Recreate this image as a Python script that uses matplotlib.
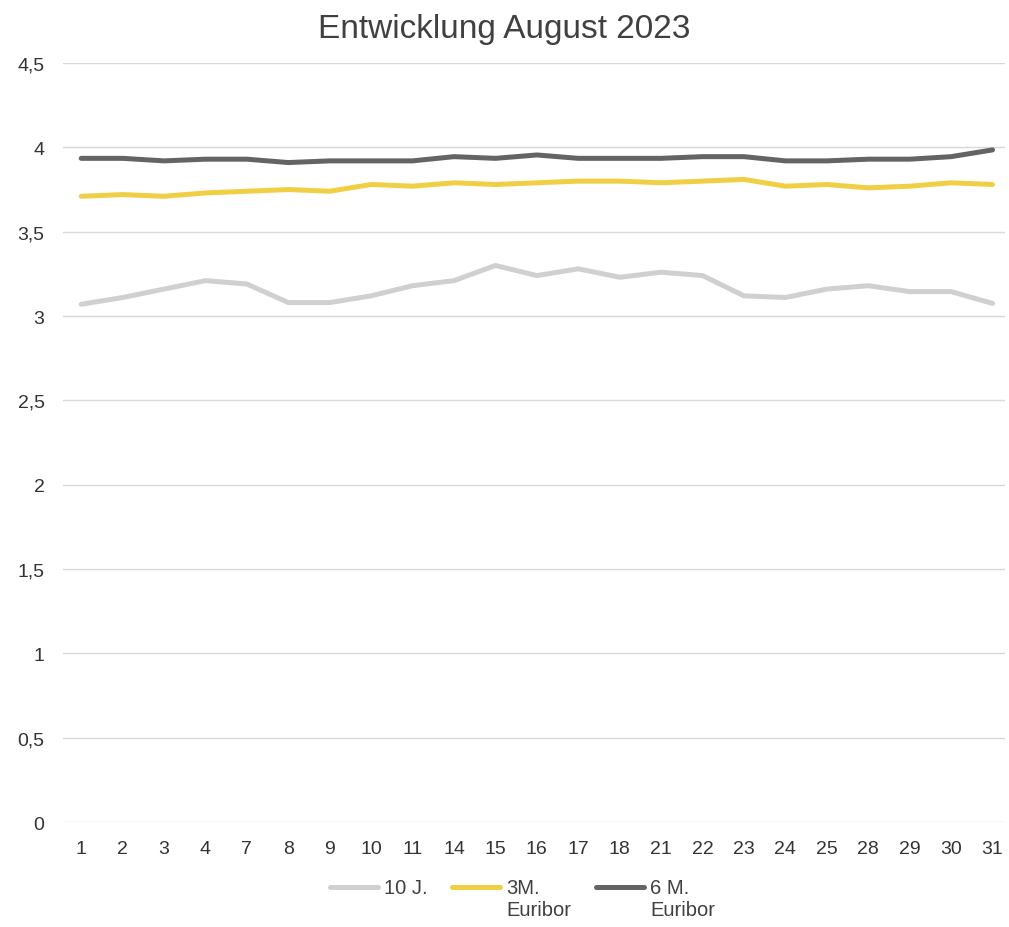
import matplotlib.pyplot as plt
from matplotlib.ticker import FuncFormatter

plt.rcParams['font.family'] = ['Liberation Sans', 'DejaVu Sans']

# Handelstage im August 2023
days = ["1", "2", "3", "4", "7", "8", "9", "10", "11", "14", "15", "16",
        "17", "18", "21", "22", "23", "24", "25", "28", "29", "30", "31"]

# Zinsen in Prozent
zins_10j = [3.07, 3.11, 3.16, 3.21, 3.19, 3.08, 3.08, 3.12, 3.18, 3.21, 3.30, 3.24,
            3.28, 3.23, 3.26, 3.24, 3.12, 3.11, 3.16, 3.18, 3.145, 3.145, 3.075]
euribor_3m = [3.71, 3.72, 3.71, 3.73, 3.74, 3.75, 3.74, 3.78, 3.77, 3.79, 3.78, 3.79,
              3.80, 3.80, 3.79, 3.80, 3.81, 3.77, 3.78, 3.76, 3.77, 3.79, 3.78]
euribor_6m = [3.935, 3.935, 3.92, 3.93, 3.93, 3.91, 3.92, 3.92, 3.92, 3.945, 3.935, 3.955,
              3.935, 3.935, 3.935, 3.945, 3.945, 3.92, 3.92, 3.93, 3.93, 3.945, 3.985]

# zweizeilige Legende wie im Original
labels = ["10 J.\n", "3M.\nEuribor", "6 M.\nEuribor"]
colors = ["#d0d0d0", "#f0cf45", "#646464"]

fig = plt.figure(figsize=(10.09, 9.28), dpi=100)
ax = fig.add_axes([0.062, 0.113, 0.934, 0.818])

x = list(range(len(days)))
for vals, lab, col in zip([zins_10j, euribor_3m, euribor_6m], labels, colors):
    ax.plot(x, vals, color=col, linewidth=3.6, label=lab, solid_capstyle='round')

ax.set_ylim(0, 4.5)
ax.set_yticks([0, 0.5, 1, 1.5, 2, 2.5, 3, 3.5, 4, 4.5])
ax.yaxis.set_major_formatter(FuncFormatter(lambda v, p: f"{v:g}".replace(".", ",")))
ax.set_xlim(-0.45, 22.3)
ax.set_xticks(x)
ax.set_xticklabels(days)

ax.grid(axis='y', color='#d9d9d9', linewidth=1)
ax.set_axisbelow(True)
for s in ax.spines.values():
    s.set_visible(False)
ax.tick_params(length=0, labelsize=14, colors='#333333')
ax.tick_params(axis='x', pad=13)
ax.tick_params(axis='y', pad=13)

fig.suptitle("Entwicklung August 2023", fontsize=24, color='#404040',
             y=0.985, va='top')

leg = ax.legend(loc='upper center', bbox_to_anchor=(0.488, -0.058), ncol=3,
                frameon=False, fontsize=14.5, handlelength=2.4, handletextpad=0.3,
                columnspacing=1.2, borderaxespad=0.2)
for t in leg.get_texts():
    t.set_color('#404040')
# Linie auf Höhe der ersten Textzeile schieben
for ln in leg.get_lines():
    ln.set_ydata([y + 8.7 for y in ln.get_ydata()])

fig.savefig("out.png", dpi=100)
